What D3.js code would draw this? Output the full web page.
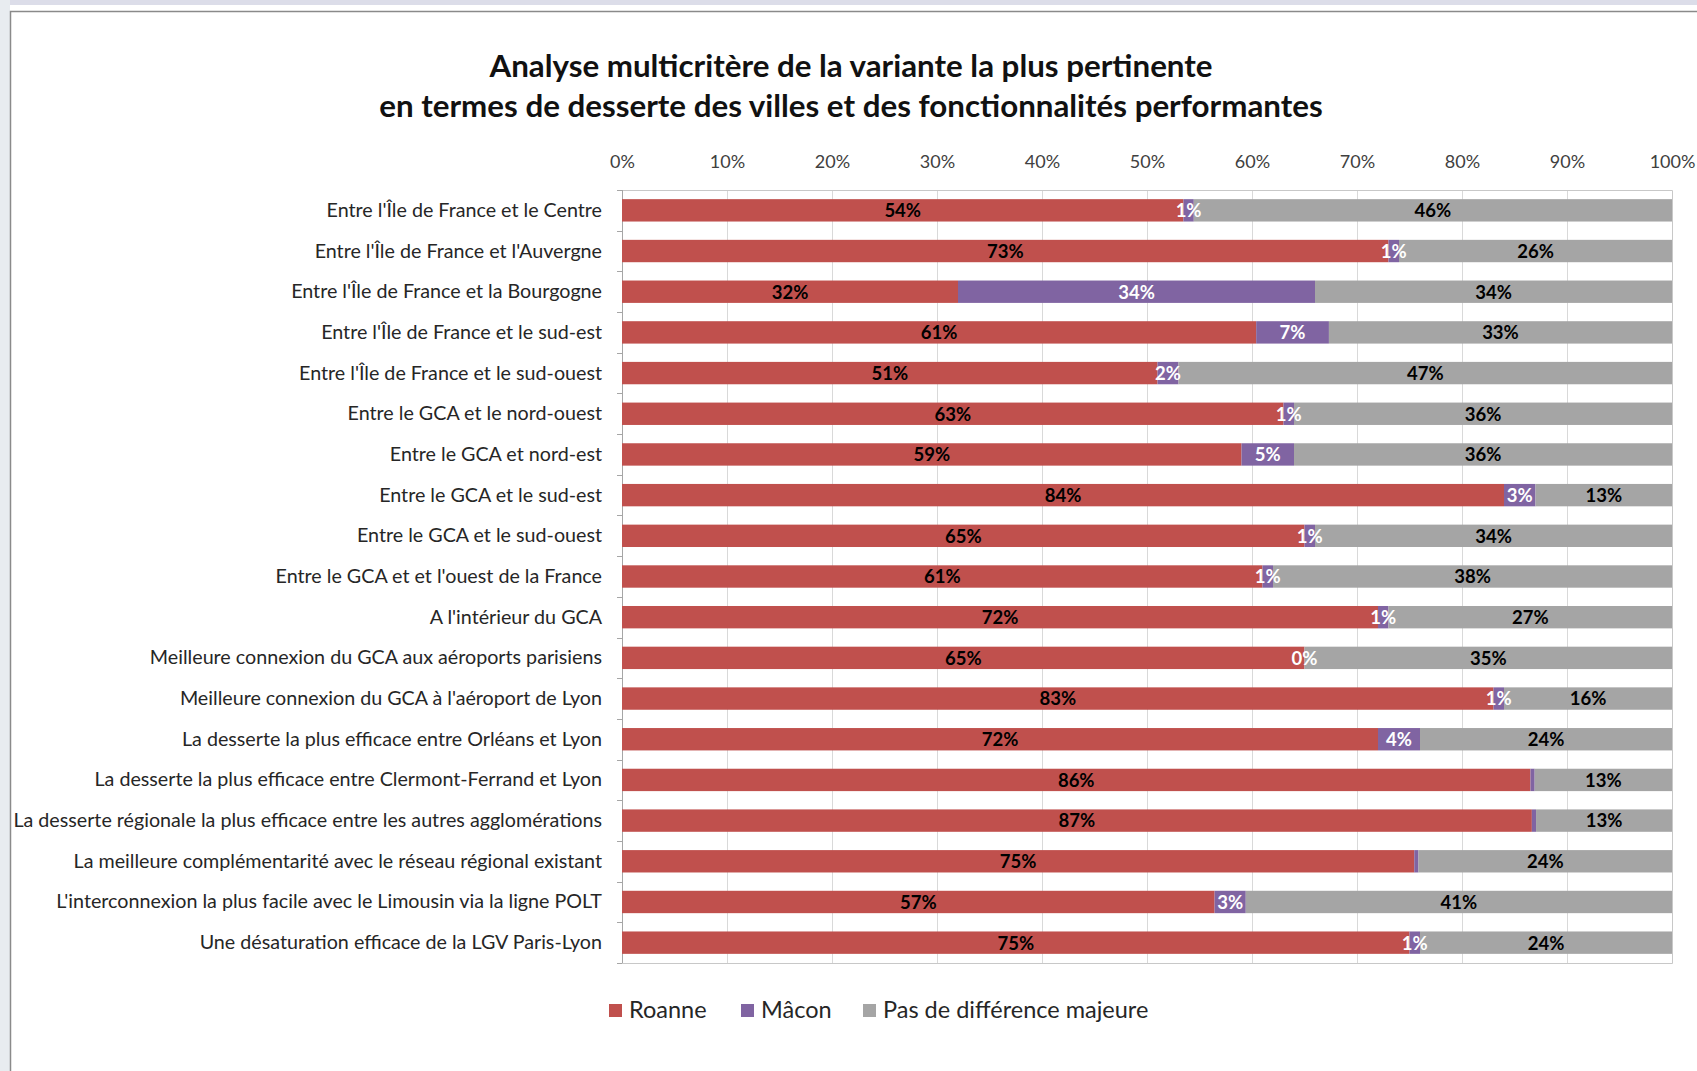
<!DOCTYPE html>
<html>
<head>
<meta charset="utf-8">
<script src="https://cdn.jsdelivr.net/npm/d3@7"></script>
<style>
  body { margin: 0; background: #fff; }
  svg { display: block; font-family: Lato, "Open Sans", sans-serif; }
</style>
</head>
<body>
<svg id="chart"></svg>
<script>
// categories, top to bottom
const categories = [
  "Entre l'Île de France et le Centre",
  "Entre l'Île de France et l'Auvergne",
  "Entre l'Île de France et la Bourgogne",
  "Entre l'Île de France et le sud-est",
  "Entre l'Île de France et le sud-ouest",
  "Entre le GCA et le nord-ouest",
  "Entre le GCA et nord-est",
  "Entre le GCA et le sud-est",
  "Entre le GCA et le sud-ouest",
  "Entre le GCA et et l'ouest de la France",
  "A l'intérieur du GCA",
  "Meilleure connexion du GCA aux aéroports parisiens",
  "Meilleure connexion du GCA à l'aéroport de Lyon",
  "La desserte la plus efficace entre Orléans et Lyon",
  "La desserte la plus efficace entre Clermont-Ferrand et Lyon",
  "La desserte régionale la plus efficace entre les autres agglomérations",
  "La meilleure complémentarité avec le réseau régional existant",
  "L'interconnexion la plus facile avec le Limousin via la ligne POLT",
  "Une désaturation efficace de la LGV Paris-Lyon"
]
const roanne  = [54, 73, 32, 61, 51, 63, 59, 84, 65, 61, 72, 65, 83, 72, 86, 87, 75, 57, 75]
const macon   = [1, 1, 34, 7, 2, 1, 5, 3, 1, 1, 1, 0, 1, 4, 0.4, 0.4, 0.4, 3, 1]
const pasDiff = [46, 26, 34, 33, 47, 36, 36, 13, 34, 38, 27, 35, 16, 24, 13, 13, 24, 41, 24]
// rows where the Mâcon label was removed in the original (sliver only)
const maconNoLabel = [14, 15, 16]

const seriesNames = ["Roanne", "Mâcon", "Pas de différence majeure"]
const seriesKeys = ["roanne", "macon", "pas"]
const xTicks = [0, 10, 20, 30, 40, 50, 60, 70, 80, 90, 100]

const colors = { roanne: "#c0504d", macon: "#8064a2", pas: "#a5a5a5" }
const labelColors = { roanne: "#000", macon: "#fff", pas: "#000" }

const rows = categories.map((c, i) => ({ cat: c, i: i, roanne: roanne[i], macon: macon[i], pas: pasDiff[i] }))

const W = 1697, H = 1071
const svg = d3.select("#chart").attr("width", W).attr("height", H)

// slide background + chart frame
svg.append("rect").attr("width", W).attr("height", H).attr("fill", "#fff")
svg.append("rect").attr("width", W).attr("height", 5).attr("fill", "#dcdde9")
svg.append("rect").attr("width", 10).attr("height", H).attr("fill", "#e8ecf0")
svg.append("path")
  .attr("d", "M10.5," + H + "V11.5H" + W)
  .attr("fill", "none").attr("stroke", "#8a8a8a").attr("stroke-width", 1.5)

const margin = { top: 190, left: 622, right: 25, bottom: 108 }
const width = W - margin.left - margin.right,
  height = H - margin.top - margin.bottom

const g = svg.append("g").attr("transform", "translate(" + margin.left + "," + margin.top + ")")

const x = d3.scaleLinear().domain([0, 100]).range([0, width])
const y = d3.scaleBand().domain(categories).range([0, height]).paddingInner(0.45).paddingOuter(0.225)

// title
const title = svg.append("text")
  .attr("text-anchor", "middle")
  .attr("font-weight", "bold")
  .attr("font-size", 31.3)
  .attr("fill", "#111")
title.append("tspan").attr("x", 851).attr("y", 77).text("Analyse multicritère de la variante la plus pertinente")
title.append("tspan").attr("x", 851).attr("y", 117).text("en termes de desserte des villes et des fonctionnalités performantes")

// vertical gridlines
g.append("g").selectAll("line")
  .data(xTicks.slice(1, -1))
  .enter().append("line")
  .attr("x1", d => x(d) + 0.5).attr("x2", d => x(d) + 0.5)
  .attr("y1", 0).attr("y2", height)
  .attr("stroke", "#d9d9d9")

// plot border (top, right, bottom)
g.append("path")
  .attr("d", "M0,0.5H" + (width + 0.5) + "V" + (height + 0.5) + "H-5")
  .attr("fill", "none").attr("stroke", "#c8c8c8")

// top axis labels
g.append("g")
  .attr("class", "xAxis")
  .call(d3.axisTop(x).tickValues(xTicks).tickFormat(d => d + "%").tickSize(0).tickPadding(22))
  .call(a => a.select(".domain").remove())
  .selectAll("text")
  .attr("font-family", "Lato, sans-serif")
  .attr("font-size", 18)
  .attr("fill", "#404040")

// left axis: labels + small ticks between categories
g.append("g")
  .attr("class", "yAxis")
  .call(d3.axisLeft(y).tickSize(0).tickPadding(20))
  .call(a => a.select(".domain").remove())
  .selectAll("text")
  .attr("font-family", "Lato, sans-serif")
  .attr("font-size", 19.7)
  .attr("dy", "0.33em")
  .attr("fill", "#262626")

const bounds = categories.map(c => y(c) - y.step() * y.paddingOuter()).concat([height])
g.append("g").selectAll("line")
  .data(bounds)
  .enter().append("line")
  .attr("x1", -5).attr("x2", 0)
  .attr("y1", d => Math.round(d) + 0.5).attr("y2", d => Math.round(d) + 0.5)
  .attr("stroke", "#a6a6a6")
g.append("line")
  .attr("x1", 0.5).attr("x2", 0.5).attr("y1", 0).attr("y2", height)
  .attr("stroke", "#a6a6a6")

// stacked bars, normalised to 100%
const stacked = d3.stack().keys(seriesKeys).offset(d3.stackOffsetExpand)(rows)

const layers = g.append("g").selectAll("g")
  .data(stacked)
  .enter().append("g")
  .attr("fill", d => colors[d.key])

layers.selectAll("rect")
  .data(d => d)
  .enter().append("rect")
  .attr("x", d => x(d[0] * 100))
  .attr("width", d => x(d[1] * 100) - x(d[0] * 100))
  .attr("y", d => y(d.data.cat))
  .attr("height", y.bandwidth())

// data labels, centred in each segment
const labels = g.append("g")
stacked.forEach(layer => {
  labels.selectAll(null)
    .data(layer.filter(d => !(layer.key === "macon" && maconNoLabel.includes(d.data.i))))
    .enter().append("text")
    .attr("x", d => x((d[0] + d[1]) * 50))
    .attr("y", d => y(d.data.cat) + y.bandwidth() / 2)
    .attr("dy", "0.37em")
    .attr("text-anchor", "middle")
    .attr("font-weight", "bold")
    .attr("font-size", 18.5)
    .attr("fill", labelColors[layer.key])
    .text(d => Math.round(d.data[layer.key]) + "%")
})

// legend
const legendX = [609, 741, 863]
const legend = svg.append("g").selectAll("g")
  .data(seriesKeys)
  .enter().append("g")
  .attr("transform", (d, i) => "translate(" + legendX[i] + ",1004)")
legend.append("rect")
  .attr("width", 13).attr("height", 13)
  .attr("fill", d => colors[d])
legend.append("text")
  .attr("x", 20).attr("y", 14)
  .attr("font-size", 23.5)
  .attr("fill", "#262626")
  .text((d, i) => seriesNames[i])
</script>
</body>
</html>
